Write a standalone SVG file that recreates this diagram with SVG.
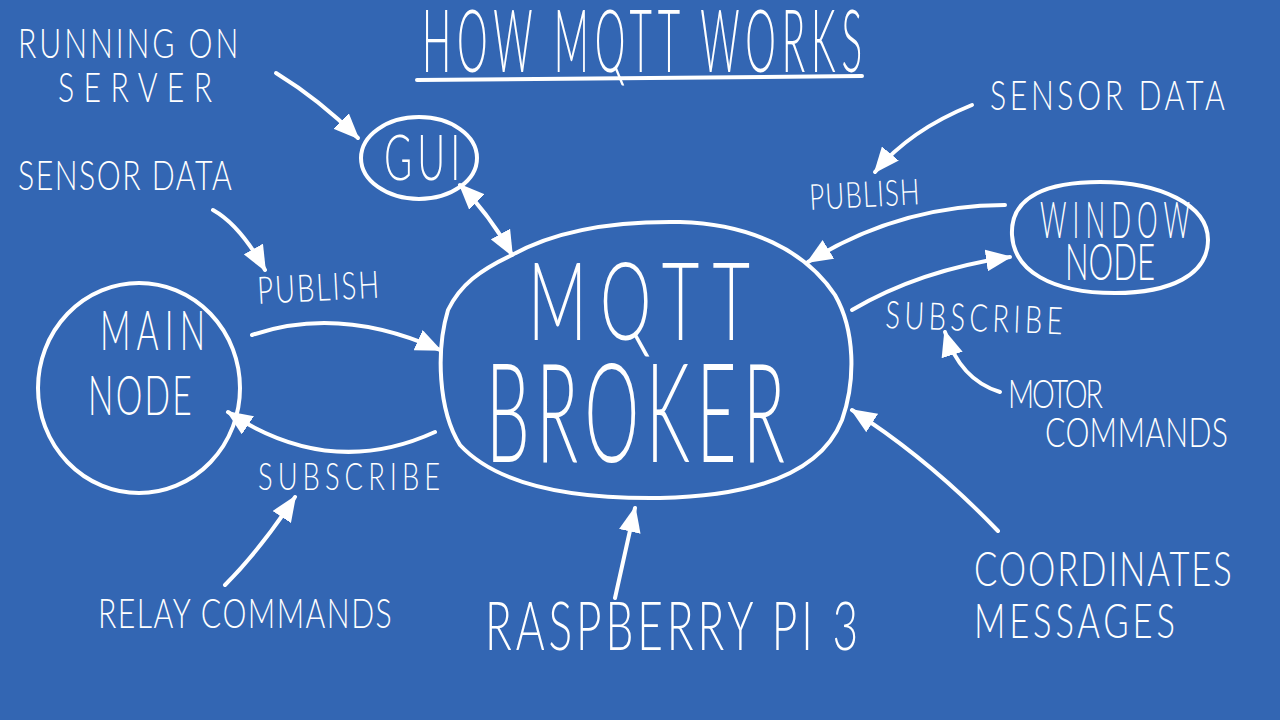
<svg xmlns="http://www.w3.org/2000/svg" width="1280" height="720" viewBox="0 0 1280 720">
<defs>
<marker id="ah" viewBox="0 0 26 22" markerUnits="userSpaceOnUse" markerWidth="26" markerHeight="22" refX="24" refY="11" orient="auto-start-reverse">
<path d="M0,0 L26,11 L0,22 Z" fill="#ffffff"/>
</marker>
<style>
.bg{fill:#3366b3}
.shape{fill:none;stroke:#ffffff;stroke-width:4;stroke-linecap:round;stroke-linejoin:round}
.con{fill:none;stroke:#ffffff;stroke-width:4;stroke-linecap:round;marker-end:url(#ah)}
.t{fill:#ffffff;font-family:Lato,"Open Sans","DejaVu Sans",sans-serif;font-weight:300}
</style>
</defs>
<rect class="bg" x="0" y="0" width="1280" height="720"/>
<g id="title">
<text class="t" transform="translate(422,72) scale(0.45,1)" font-size="86" textLength="978" lengthAdjust="spacing">HOW MQTT WORKS</text>
<path class="shape" d="M417,80 L862,76"/>
</g>
<g id="gui">
<ellipse class="shape" cx="419" cy="158" rx="58" ry="41"/>
<text class="t" transform="translate(384,180) scale(0.6,1)" font-size="64" textLength="127" lengthAdjust="spacing">GUI</text>
</g>
<g id="broker">
<path class="shape" d="M512,255 C560,228 620,221 680,222 C750,224 805,250 835,295 C855,330 856,380 842,420 C822,470 760,496 660,498 C580,499 500,488 460,445 C438,410 436,350 448,310 C460,285 480,270 512,255 Z"/>
<text class="t" transform="translate(528,340) scale(0.6,1)" font-size="108" textLength="370" lengthAdjust="spacing">MQTT</text>
<text class="t" transform="translate(486,462) scale(0.5,1)" font-size="138" textLength="598" lengthAdjust="spacing">BROKER</text>
</g>
<g id="main-node">
<ellipse class="shape" cx="139" cy="388" rx="101" ry="105"/>
<text class="t" transform="translate(100,350) scale(0.6,1)" font-size="56" textLength="175" lengthAdjust="spacing">MAIN</text>
<text class="t" transform="translate(88,415) scale(0.6,1)" font-size="56" textLength="173" lengthAdjust="spacing">NODE</text>
</g>
<g id="window-node">
<path class="shape" d="M1012,235 C1010,195 1050,182 1100,182 C1160,182 1208,205 1208,240 C1208,275 1170,293 1115,293 C1050,293 1014,270 1012,235 Z"/>
<text class="t" transform="translate(1040,238) scale(0.5,1)" font-size="52" textLength="300" lengthAdjust="spacing">WINDOW</text>
<text class="t" transform="translate(1065,280) scale(0.6,1)" font-size="52" textLength="150" lengthAdjust="spacing">NODE</text>
</g>
<g id="labels">
<text class="t" transform="translate(18,58) scale(0.72,1)" font-size="42" textLength="306" lengthAdjust="spacing">RUNNING ON</text>
<text class="t" transform="translate(58,102) scale(0.72,1)" font-size="42" textLength="214" lengthAdjust="spacing">SERVER</text>
<text class="t" transform="translate(18,190) scale(0.72,1)" font-size="42" textLength="297" lengthAdjust="spacing">SENSOR DATA</text>
<text class="t" transform="translate(258,304) rotate(-3) scale(0.72,1)" font-size="38" textLength="169" lengthAdjust="spacing">PUBLISH</text>
<text class="t" transform="translate(258,490) scale(0.72,1)" font-size="38" textLength="253" lengthAdjust="spacing">SUBSCRIBE</text>
<text class="t" transform="translate(98,628) scale(0.72,1)" font-size="42" textLength="408" lengthAdjust="spacing">RELAY COMMANDS</text>
<text class="t" transform="translate(485,650) scale(0.65,1)" font-size="68" textLength="574" lengthAdjust="spacing">RASPBERRY PI 3</text>
<text class="t" transform="translate(974,586) scale(0.72,1)" font-size="48" textLength="358" lengthAdjust="spacing">COORDINATES</text>
<text class="t" transform="translate(974,638) scale(0.72,1)" font-size="48" textLength="279" lengthAdjust="spacing">MESSAGES</text>
<text class="t" transform="translate(1008,408) scale(0.72,1)" font-size="40" textLength="132" lengthAdjust="spacing">MOTOR</text>
<text class="t" transform="translate(1045,447) scale(0.72,1)" font-size="42" textLength="254" lengthAdjust="spacing">COMMANDS</text>
<text class="t" transform="translate(885,328) rotate(2) scale(0.72,1)" font-size="38" textLength="246" lengthAdjust="spacing">SUBSCRIBE</text>
<text class="t" transform="translate(810,210) rotate(-3) scale(0.72,1)" font-size="36" textLength="153" lengthAdjust="spacing">PUBLISH</text>
<text class="t" transform="translate(990,110) scale(0.72,1)" font-size="42" textLength="326" lengthAdjust="spacing">SENSOR DATA</text>
</g>
<g id="connectors">
<path class="con" d="M276,73 Q320,100 358,138"/>
<path class="con" d="M460,185 Q490,215 512,255" marker-start="url(#ah)"/>
<path class="con" d="M213,210 Q240,225 265,270"/>
<path class="con" d="M252,335 Q340,305 440,350"/>
<path class="con" d="M435,432 Q330,480 228,412"/>
<path class="con" d="M225,585 Q260,550 295,497"/>
<path class="con" d="M615,598 L635,508"/>
<path class="con" d="M998,531 Q930,460 852,410"/>
<path class="con" d="M1000,392 Q960,380 945,332"/>
<path class="con" d="M852,310 Q920,270 1010,257"/>
<path class="con" d="M1005,205 Q900,205 808,262"/>
<path class="con" d="M972,105 Q910,130 875,172"/>
</g>
</svg>
